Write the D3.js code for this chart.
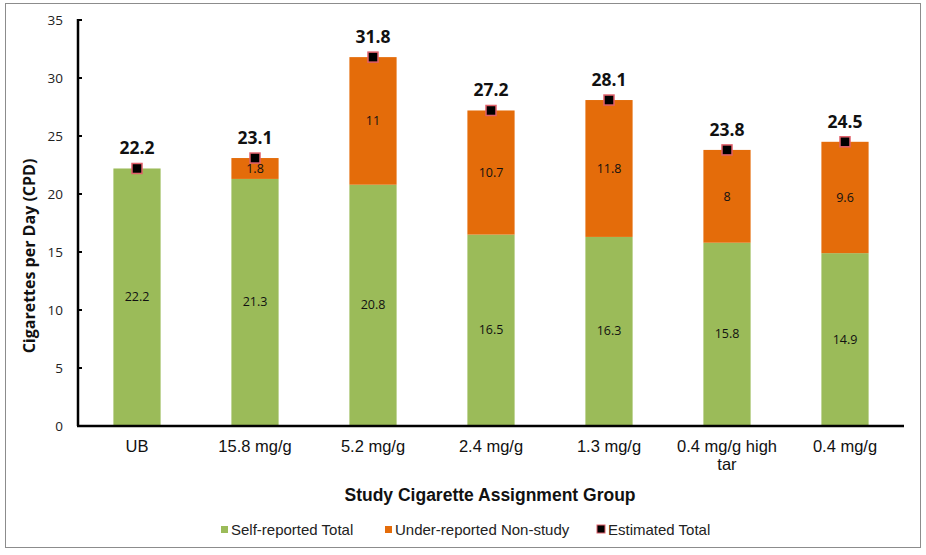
<!DOCTYPE html>
<html>
<head>
<meta charset="utf-8">
<script src="https://cdn.jsdelivr.net/npm/d3@7"></script>
<style>
  body { margin: 0; background: #fff; }
  svg { display: block; }
  .tick-label { font-family: "Open Sans", "Noto Sans", sans-serif; font-size: 13.5px; fill: #222; }
  .cat-label { font-family: "Liberation Sans", Arial, sans-serif; font-size: 16.5px; fill: #111; }
  .seg-label { font-family: "Open Sans", "Noto Sans", sans-serif; font-size: 12.5px; fill: #111; }
  .total-label { font-family: "Open Sans", "Noto Sans", sans-serif; font-size: 17.5px; font-weight: bold; fill: #111; }
  .y-title { font-family: "Open Sans", "Noto Sans", sans-serif; font-size: 16px; font-weight: bold; fill: #111; }
  .x-title { font-family: "Liberation Sans", Arial, sans-serif; font-size: 17.5px; font-weight: bold; fill: #111; }
  .legend-label { font-family: "Liberation Sans", Arial, sans-serif; font-size: 15px; fill: #222; }
</style>
</head>
<body>
<svg id="chart" width="926" height="555"></svg>
<script>
(function () {
    "use strict";

    // chart values
    const categories = ["UB", "15.8 mg/g", "5.2 mg/g", "2.4 mg/g", "1.3 mg/g", "0.4 mg/g high tar", "0.4 mg/g"];
    const selfReported = [22.2, 21.3, 20.8, 16.5, 16.3, 15.8, 14.9];
    const underReported = [0, 1.8, 11, 10.7, 11.8, 8, 9.6];
    const estimatedTotal = [22.2, 23.1, 31.8, 27.2, 28.1, 23.8, 24.5];
    const yTicks = [0, 5, 10, 15, 20, 25, 30, 35];
    const legendItems = ["Self-reported Total", "Under-reported Non-study", "Estimated Total"];

    const GREEN = "#9bbb59";
    const ORANGE = "#e46c0a";

    const svg = d3.select("#chart");

    // outer frame
    svg.append("rect")
        .attr("x", 5.5).attr("y", 3.5)
        .attr("width", 915).attr("height", 544)
        .attr("fill", "#fff")
        .attr("stroke", "#8c8c8c")
        .attr("stroke-width", 1);

    const left = 78, right = 904, top = 20, bottom = 426;

    const x = d3.scaleBand()
        .domain(categories)
        .range([left, right])
        .paddingInner(0.6)
        .paddingOuter(0.3);

    const y = d3.scaleLinear()
        .domain([0, 35])
        .range([bottom, top]);

    const rows = categories.map((c, i) => ({
        cat: c,
        self: selfReported[i],
        under: underReported[i],
        total: estimatedTotal[i]
    }));

    // green segments
    svg.selectAll(".bar-self")
        .data(rows)
        .enter()
        .append("rect")
        .attr("class", "bar-self")
        .attr("x", (d) => x(d.cat))
        .attr("y", (d) => y(d.self))
        .attr("width", x.bandwidth())
        .attr("height", (d) => y(0) - y(d.self))
        .attr("fill", GREEN);

    // orange segments
    svg.selectAll(".bar-under")
        .data(rows.filter((d) => d.under > 0))
        .enter()
        .append("rect")
        .attr("class", "bar-under")
        .attr("x", (d) => x(d.cat))
        .attr("y", (d) => y(d.self + d.under))
        .attr("width", x.bandwidth())
        .attr("height", (d) => y(d.self) - y(d.self + d.under))
        .attr("fill", ORANGE);

    // segment labels
    svg.selectAll(".lab-self")
        .data(rows)
        .enter()
        .append("text")
        .attr("class", "seg-label")
        .attr("x", (d) => x(d.cat) + x.bandwidth() / 2)
        .attr("y", (d) => y(d.self / 2) + 4)
        .attr("text-anchor", "middle")
        .text((d) => d.self);

    svg.selectAll(".lab-under")
        .data(rows.filter((d) => d.under > 0))
        .enter()
        .append("text")
        .attr("class", "seg-label")
        .attr("x", (d) => x(d.cat) + x.bandwidth() / 2)
        .attr("y", (d) => y(d.self + d.under / 2) + 4.5)
        .attr("text-anchor", "middle")
        .text((d) => d.under);

    // estimated total markers
    svg.selectAll(".marker")
        .data(rows)
        .enter()
        .append("rect")
        .attr("class", "marker")
        .attr("x", (d) => x(d.cat) + x.bandwidth() / 2 - 5)
        .attr("y", (d) => y(d.total) - 5)
        .attr("width", 10)
        .attr("height", 10)
        .attr("fill", "#000")
        .attr("stroke", "#e0606a")
        .attr("stroke-width", 1.5);

    svg.selectAll(".total")
        .data(rows)
        .enter()
        .append("text")
        .attr("class", "total-label")
        .attr("x", (d) => x(d.cat) + x.bandwidth() / 2)
        .attr("y", (d) => y(d.total) - 14)
        .attr("text-anchor", "middle")
        .text((d) => d.total);

    // y axis ticks
    svg.selectAll(".y-tick")
        .data(yTicks)
        .enter()
        .append("text")
        .attr("class", "tick-label")
        .attr("x", left - 15)
        .attr("y", (d) => y(d) + 5)
        .attr("text-anchor", "end")
        .text((d) => d);

    svg.selectAll(".y-tick-mark")
        .data(yTicks)
        .enter()
        .append("line")
        .attr("x1", left).attr("x2", left + 4)
        .attr("y1", (d) => y(d)).attr("y2", (d) => y(d))
        .attr("stroke", "#000").attr("stroke-width", 2);

    // axis lines
    svg.append("line")
        .attr("x1", left).attr("y1", top - 1)
        .attr("x2", left).attr("y2", bottom)
        .attr("stroke", "#000").attr("stroke-width", 2.5);
    svg.append("line")
        .attr("x1", left - 1).attr("y1", bottom)
        .attr("x2", right).attr("y2", bottom)
        .attr("stroke", "#000").attr("stroke-width", 2.5);

    // category labels (wrap long ones)
    svg.selectAll(".cat")
        .data(categories)
        .enter()
        .append("text")
        .attr("class", "cat-label")
        .attr("text-anchor", "middle")
        .each(function (d) {
            const t = d3.select(this);
            const cx = x(d) + x.bandwidth() / 2;
            const lines = d.length > 12 ? [d.replace(/ tar$/, ""), "tar"] : [d];
            lines.forEach((ln, i) => {
                t.append("tspan").attr("x", cx).attr("y", 452 + i * 18).text(ln);
            });
        });

    // axis titles
    svg.append("text")
        .attr("class", "y-title")
        .attr("transform", "translate(35,256) rotate(-90)")
        .attr("text-anchor", "middle")
        .text("Cigarettes per Day (CPD)");

    svg.append("text")
        .attr("class", "x-title")
        .attr("x", 490).attr("y", 501)
        .attr("text-anchor", "middle")
        .text("Study Cigarette Assignment Group");

    // legend
    const legendX = [221, 385, 597];
    const legend = svg.selectAll(".legend")
        .data(legendItems)
        .enter()
        .append("g")
        .attr("transform", (d, i) => `translate(${legendX[i]},530)`);

    legend.append("rect")
        .attr("x", 0)
        .attr("y", (d, i) => i === 2 ? -5 : -4)
        .attr("width", (d, i) => i === 2 ? 8 : 7)
        .attr("height", (d, i) => i === 2 ? 8 : 7)
        .attr("fill", (d, i) => [GREEN, ORANGE, "#000"][i])
        .attr("stroke", (d, i) => i === 2 ? "#e0606a" : "none")
        .attr("stroke-width", 1);

    legend.append("text")
        .attr("class", "legend-label")
        .attr("x", (d, i) => i === 2 ? 11 : 10)
        .attr("y", 5)
        .text((d) => d);
})();
</script>
</body>
</html>
